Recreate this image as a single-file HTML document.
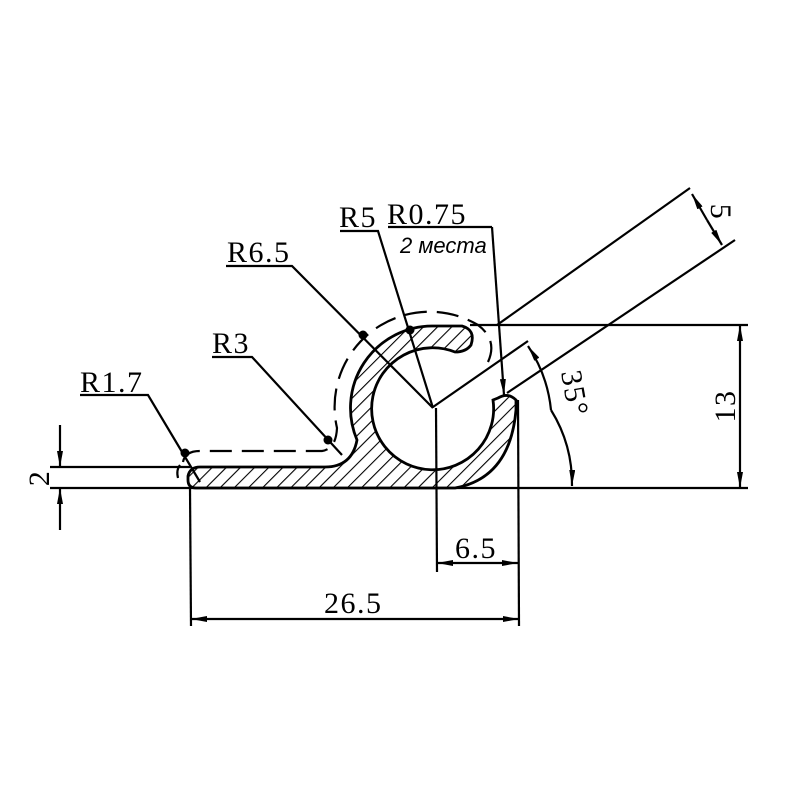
<!DOCTYPE html>
<html><head><meta charset="utf-8"><style>html,body{margin:0;padding:0;background:#fff}svg{display:block}</style></head>
<body>
<svg width="800" height="800" viewBox="0 0 800 800" xmlns="http://www.w3.org/2000/svg">
<defs>
<pattern id="h" patternUnits="userSpaceOnUse" width="10" height="10" patternTransform="rotate(45)">
<line x1="0" y1="0" x2="0" y2="10" stroke="#000" stroke-width="2.2"/>
</pattern>
<marker id="a" viewBox="0 0 16 6" refX="16" refY="3" markerWidth="16" markerHeight="6" orient="auto" markerUnits="userSpaceOnUse"><path d="M0,0 L16,3 L0,6 Z" fill="#000"/></marker>
</defs>
<g fill="none" stroke="#000" stroke-width="2.2">
<path d="M455 488 L196 488 Q188 488 188 480 L188 476 Q190 467 200 467 L325 467 Q352 467 357 440 A82 82 0 0 1 432 326 L462 326 Q476 330 471 345 Q466 352 455 352 A61 61 0 1 0 493 400 L498 398 Q508 392 516 400 L516 410 Q510 478 455 488 Z" fill="url(#h)" stroke-width="2.8"/>
<path d="M183 462 Q185 451 200 451 L322 451 Q336 449 337 428 A95 95 0 0 1 478 325 Q498 340 488 362" stroke-dasharray="22,10"/>
<path d="M178 478 Q176 470 180 465"/>
<line x1="470" y1="325" x2="748" y2="325"/>
<line x1="50" y1="488" x2="748" y2="488"/>
<line x1="50" y1="467" x2="190" y2="467"/>
<line x1="190" y1="488" x2="191" y2="626"/>
<line x1="436" y1="408" x2="437" y2="572"/>
<line x1="518" y1="400" x2="519" y2="626"/>
<line x1="478" y1="563" x2="518" y2="563" marker-end="url(#a)"/>
<line x1="478" y1="563" x2="437" y2="563" marker-end="url(#a)"/>
<line x1="355" y1="619" x2="519" y2="619" marker-end="url(#a)"/>
<line x1="355" y1="619" x2="191" y2="619" marker-end="url(#a)"/>
<line x1="740" y1="405" x2="740" y2="325" marker-end="url(#a)"/>
<line x1="740" y1="405" x2="740" y2="488" marker-end="url(#a)"/>
<line x1="60" y1="425" x2="60" y2="467" marker-end="url(#a)"/>
<line x1="60" y1="530" x2="60" y2="488" marker-end="url(#a)"/>
<line x1="433" y1="407" x2="528" y2="341"/>
<line x1="497" y1="325" x2="690" y2="188"/>
<line x1="507" y1="393" x2="735" y2="240"/>
<line x1="707" y1="220" x2="692" y2="194" marker-end="url(#a)"/>
<line x1="707" y1="220" x2="722" y2="245" marker-end="url(#a)"/>
<path d="M551 410 A140 140 0 0 1 572 486" marker-end="url(#a)"/>
<path d="M551 410 A140 140 0 0 0 528 346" marker-end="url(#a)"/>
<polyline points="80,395 148,395 200,482"/>
<polyline points="212,357 252,357 342,455"/>
<polyline points="226,266 292,266 433,408"/>
<polyline points="340,231 378,231 433,408"/>
<polyline points="388,227 492,227"/>
<line x1="492" y1="227" x2="504" y2="395" marker-end="url(#a)"/>
</g>
<g fill="#000">
<circle cx="185" cy="453" r="4.5"/><circle cx="328" cy="440" r="4.5"/><circle cx="363" cy="335" r="4.5"/><circle cx="410" cy="330" r="4.5"/>
</g>
<g font-family="Liberation Serif, serif" font-size="30" fill="#000" letter-spacing="1.5">
<text x="80" y="392">R1.7</text>
<text x="212" y="353">R3</text>
<text x="227" y="262">R6.5</text>
<text x="339" y="227">R5</text>
<text x="387" y="224">R0.75</text>
<text x="400" y="253" font-size="22" letter-spacing="0" font-style="italic" font-family="Liberation Sans, sans-serif">2 места</text>
<text x="455" y="558">6.5</text>
<text x="324" y="613">26.5</text>
<text transform="translate(735,406) rotate(-90)" text-anchor="middle">13</text>
<text transform="translate(49,478) rotate(-90)" text-anchor="middle">2</text>
<text transform="translate(711,212) rotate(90)" text-anchor="middle">5</text>
<text transform="translate(565,395) rotate(80)" text-anchor="middle">35°</text>
</g>
</svg>
</body></html>
